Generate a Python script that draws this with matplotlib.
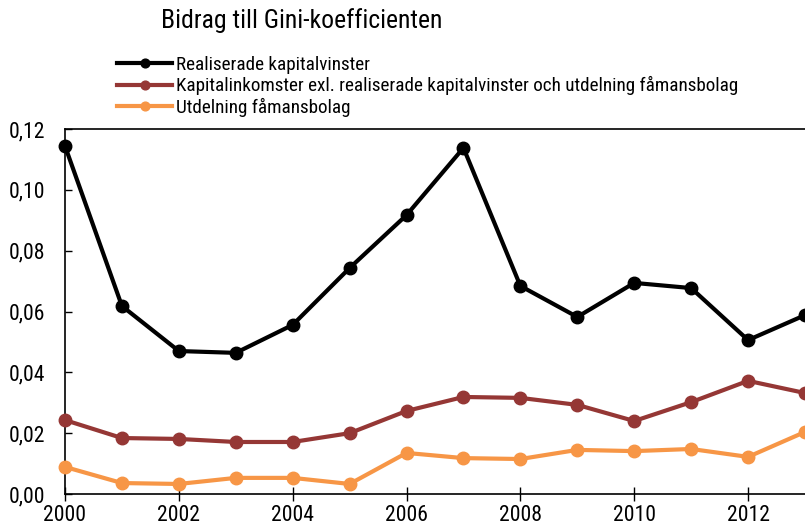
import matplotlib
matplotlib.use("Agg")
import matplotlib.pyplot as plt
from matplotlib.ticker import FuncFormatter, MultipleLocator
from matplotlib import font_manager
from matplotlib.font_manager import FontProperties

years = list(range(2000, 2014))
realiserade = [0.1144, 0.0618, 0.0470, 0.0464, 0.0556, 0.0743, 0.0917, 0.1138,
               0.0684, 0.0582, 0.0694, 0.0677, 0.0506, 0.0588]
kapitalinkomster = [0.0243, 0.0184, 0.0181, 0.0171, 0.0171, 0.0200, 0.0273, 0.0319,
                    0.0316, 0.0293, 0.0240, 0.0302, 0.0372, 0.0332]
utdelning = [0.0089, 0.0036, 0.0033, 0.0053, 0.0053, 0.0033, 0.0135, 0.0118,
             0.0115, 0.0145, 0.0141, 0.0148, 0.0122, 0.0204]

labels = ["Realiserade kapitalvinster",
          "Kapitalinkomster exl. realiserade kapitalvinster och utdelning fåmansbolag",
          "Utdelning fåmansbolag"]
colors = ["#000000", "#953735", "#F79646"]
title = "Bidrag till Gini-koefficienten"

# pick a condensed font if one is installed
def score(f):
    s = (f.name + " " + f.fname + " " + str(f.stretch)).lower()
    if not any(k in s for k in ("condensed", "narrow")):
        return None
    if f.style != "normal":
        return None
    w = f.weight if isinstance(f.weight, int) else {"normal": 400, "regular": 400}.get(str(f.weight), 0)
    if w != 400:
        return None
    sc = 0
    if "extra" in s or "ultra" in s:
        sc += 5
    if "semi" in s:
        sc += 2
    if "noto sans" in s or "roboto" in s or "open sans" in s:
        sc -= 1
    return sc

cands = [(score(f), f) for f in font_manager.fontManager.ttflist]
cands = [c for c in cands if c[0] is not None]
if cands:
    cands.sort(key=lambda c: c[0])
    base = FontProperties(fname=cands[0][1].fname)
else:
    base = FontProperties(family="Liberation Sans")

fig = plt.figure(figsize=(8.05, 5.29), dpi=100)
renderer = fig.canvas.get_renderer()

def fit(text, target_px):
    p = base.copy()
    p.set_size(10)
    w, h, d = renderer.get_text_width_height_descent(text, p, ismath=False)
    p.set_size(10 * target_px / w)
    return p

p_title = fit(title, 280)
p_leg = fit(labels[1], 562)
p_tick = fit("2000", 42)

ax = fig.add_axes([65/805, 1-494/529, 1-65/805, (494-129)/529])

for vals, lab, col in zip([realiserade, kapitalinkomster, utdelning], labels, colors):
    ax.plot(years, vals, color=col, lw=3.0, marker="o", ms=9, label=lab,
            clip_on=False, zorder=3)

ax.set_xlim(2000, 2013)
ax.set_ylim(0, 0.12)
ax.xaxis.set_major_locator(MultipleLocator(2))
ax.yaxis.set_major_locator(MultipleLocator(0.02))
ax.yaxis.set_major_formatter(FuncFormatter(lambda v, p: f"{v:.2f}".replace(".", ",")))
ax.spines['right'].set_visible(False)
for s in ['left', 'bottom', 'top']:
    ax.spines[s].set_linewidth(1.2)
ax.tick_params(axis='y', direction='in', length=5, width=1, pad=14)
ax.tick_params(axis='x', direction='inout', length=10, width=1, pad=3)
for lab in ax.get_yticklabels() + ax.get_xticklabels():
    lab.set_fontproperties(p_tick)

fs_px = p_leg.get_size_in_points() * 100 / 72
leg = fig.legend(loc="upper left", bbox_to_anchor=(117/805, 1-56/529), frameon=False,
                 prop=p_leg, handlelength=55/fs_px, handletextpad=4/fs_px,
                 labelspacing=0.12, markerscale=0.7,
                 borderaxespad=0, borderpad=0)
fig.text(161/805, 1-21/529, title, fontproperties=p_title, va="center", ha="left")

fig.savefig("out.png", dpi=100)
